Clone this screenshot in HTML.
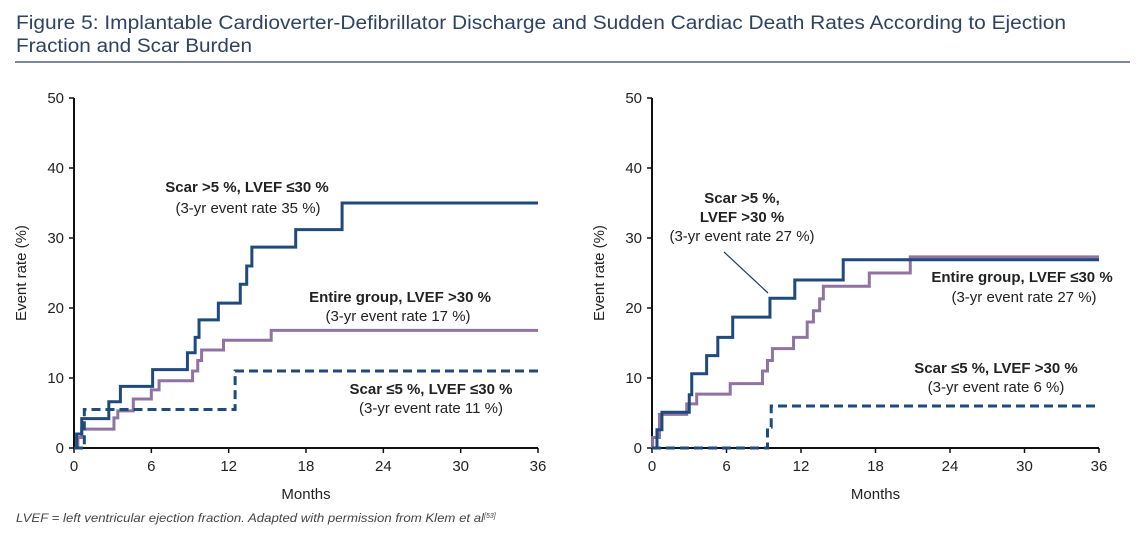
<!DOCTYPE html>
<html><head><meta charset="utf-8"><style>
body{margin:0;background:#fff;width:1140px;height:541px;overflow:hidden}
svg{display:block;font-family:"Liberation Sans",sans-serif}
</style></head><body>
<svg id="fig" width="1140" height="541" viewBox="0 0 1140 541">
<text x="16" y="29" font-size="19" fill="#2f4261" textLength="1050" lengthAdjust="spacingAndGlyphs">Figure 5: Implantable Cardioverter-Defibrillator Discharge and Sudden Cardiac Death Rates According to Ejection</text>
<text x="16" y="52" font-size="19" fill="#2f4261" textLength="236" lengthAdjust="spacingAndGlyphs">Fraction and Scar Burden</text>
<line x1="15" y1="62" x2="1130" y2="62" stroke="#2f4261" stroke-width="1.2"/>
<text x="16" y="522" font-size="12" font-style="italic" fill="#444"><tspan textLength="468" lengthAdjust="spacingAndGlyphs">LVEF = left ventricular ejection fraction. Adapted with permission from Klem et al</tspan><tspan font-size="7" dy="-4">[53]</tspan></text>
<g id="left"></g>
<g id="right"></g>
</svg>
<script>
const xTicks=[0,6,12,18,24,30,36];
const yTicks=[0,10,20,30,40,50];
// left panel: [month, event rate %]
const leftHighScarT=[0,0.2,0.6,2.7,3.6,6.1,8.8,9.4,9.7,11.2,12.9,13.4,13.8,17.2,20.8,36];
const leftHighScarV=[0,2,4.2,6.6,8.8,11.2,13.6,15.8,18.3,20.7,23.4,26,28.7,31.2,35,35];
const leftEntireT=[0,0.3,0.6,3.1,3.4,4.6,6.0,6.6,9.2,9.6,9.9,11.6,15.3,36];
const leftEntireV=[0,1.5,2.7,4.3,5.3,7,8.3,9.6,11,12.5,14,15.4,16.8,16.8];
const leftLowScarT=[0,0.8,12.5,36];
const leftLowScarV=[0,5.5,11,11];
// right panel
const rightHighScarT=[0,0.4,0.8,3.0,3.2,4.4,5.3,6.5,9.5,11.5,15.4,36];
const rightHighScarV=[0,2.6,5.1,7.6,10.6,13.2,15.8,18.7,21.4,24,26.9,26.9];
const rightEntireT=[0,0.05,0.6,2.8,3.6,6.3,8.9,9.3,9.7,11.4,12.5,13.0,13.5,13.8,17.5,20.8,36];
const rightEntireV=[0,1.5,4.8,6.3,7.7,9.2,11,12.5,14.2,15.8,18,19.6,21.3,23.1,25,27.3,27.3];
const rightLowScarT=[0,9.3,9.6,36];
const rightLowScarV=[0,3,6,6];

const NS="http://www.w3.org/2000/svg";
const DARK="#1f4a7c",PURP="#8f74a3";
function mk(parent,tag,attrs,txt){const e=document.createElementNS(NS,tag);for(const k in attrs)e.setAttribute(k,attrs[k]);if(txt!=null)e.textContent=txt;parent.appendChild(e);return e;}
function panel(g,x0,x1,series,labels,name){
  const y0=448,y1=98;
  const sx=m=>x0+(m/36)*(x1-x0), sy=v=>y0-(v/50)*(y0-y1);
  const ax=mk(g,'path',{d:`M${x0} ${y1}V${y0}H${x1}`,fill:'none',stroke:'#111','stroke-width':2});
  
  
  yTicks.forEach(t=>{
    const l=mk(g,'line',{x1:x0-5,x2:x0,y1:sy(t),y2:sy(t),stroke:'#111','stroke-width':1.5});
    
    
    const tx=mk(g,'text',{x:x0-10,y:sy(t)+5,'text-anchor':'end','font-size':15,fill:'#222'},t);
    
    
  });
  xTicks.forEach(t=>{
    const l=mk(g,'line',{x1:sx(t),x2:sx(t),y1:y0,y2:y0+5,stroke:'#111','stroke-width':1.5});
    
    
    const tx=mk(g,'text',{x:sx(t),y:y0+23,'text-anchor':'middle','font-size':15,fill:'#222'},t);
    
    
  });
  const xt=mk(g,'text',{x:(x0+x1)/2,y:499,'text-anchor':'middle','font-size':15,fill:'#222'},'Months');
  
  
  const yt=mk(g,'text',{x:0,y:0,'text-anchor':'middle','font-size':15,fill:'#222',transform:`translate(${x0-48},${sy(25)}) rotate(-90)`},'Event rate (%)');
  
  
  series.forEach(s=>{
    let d=`M${sx(s.t[0])} ${sy(s.v[0])}`;
    for(let i=1;i<s.t.length;i++){d+=`H${sx(s.t[i])}V${sy(s.v[i])}`;}
    const attrs={d,fill:'none',stroke:s.c,'stroke-width':3};
    if(s.dash)attrs['stroke-dasharray']='9 5';
    const p=mk(g,'path',attrs);
    
    
  });
  labels.forEach(L=>{
    const tx=mk(g,'text',{x:L[0],y:L[1],'text-anchor':'middle','font-size':15,'font-weight':L[3]?'bold':'normal',fill:'#222'},L[2]);
    
    
  });
}
panel(document.getElementById('left'),74,538,[
 {t:leftEntireT,v:leftEntireV,c:PURP,n:'line-entire-group-lvef-gt30'},
 {t:leftLowScarT,v:leftLowScarV,c:DARK,dash:1,n:'line-scar-le5-lvef-le30'},
 {t:leftHighScarT,v:leftHighScarV,c:DARK,n:'line-scar-gt5-lvef-le30'}
],[[247,192,'Scar >5 %, LVEF \u226430 %',1],[248,213,'(3-yr event rate 35 %)'],
   [400,302,'Entire group, LVEF >30 %',1],[398,321,'(3-yr event rate 17 %)'],
   [431,394,'Scar \u22645 %, LVEF \u226430 %',1],[431,413,'(3-yr event rate 11 %)']],'left');
panel(document.getElementById('right'),652,1099,[
 {t:rightEntireT,v:rightEntireV,c:PURP,n:'line-entire-group-lvef-le30'},
 {t:rightLowScarT,v:rightLowScarV,c:DARK,dash:1,n:'line-scar-le5-lvef-gt30'},
 {t:rightHighScarT,v:rightHighScarV,c:DARK,n:'line-scar-gt5-lvef-gt30'}
],[[742,203,'Scar >5 %,',1],[742,222,'LVEF >30 %',1],[742,241,'(3-yr event rate 27 %)'],
   [1022,282,'Entire group, LVEF \u226430 %',1],[1024,302,'(3-yr event rate 27 %)'],
   [996,373,'Scar \u22645 %, LVEF >30 %',1],[996,392,'(3-yr event rate 6 %)']],'right');
const ln=mk(document.getElementById('right'),'line',{x1:724,y1:252,x2:768,y2:293,stroke:'#1f3a5c','stroke-width':1.2});


</script>
</body></html>
